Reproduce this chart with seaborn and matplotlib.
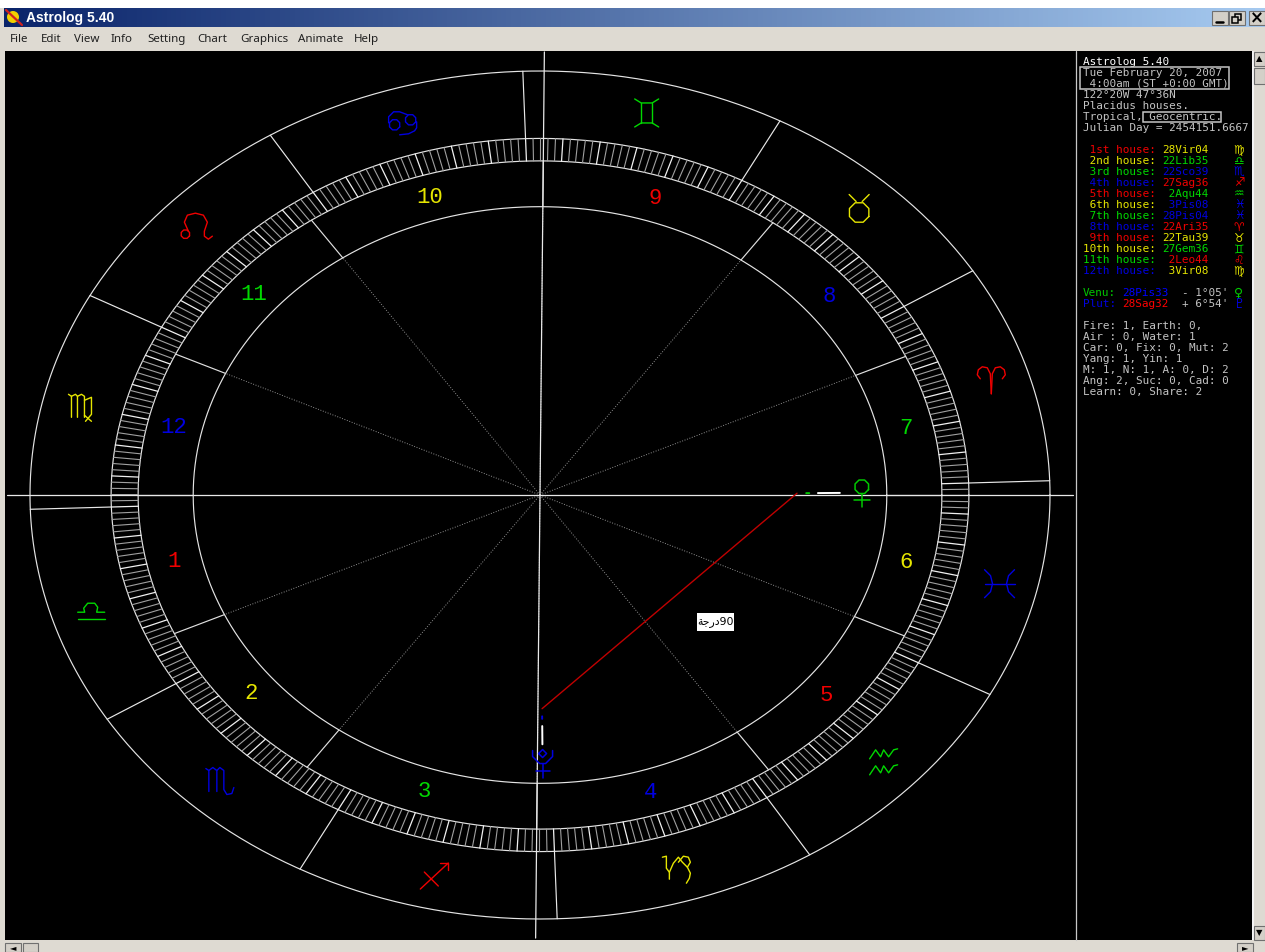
import numpy as np
import pandas as pd
import matplotlib
matplotlib.use("Agg")
import matplotlib.pyplot as plt
from matplotlib.patches import Rectangle, Circle
import seaborn as sns

# chart data (longitudes in degrees)
house_cusps = [178.07, 202.58, 232.65, 267.60, 302.73, 333.13,
               358.07, 22.58, 52.65, 87.60, 122.73, 153.13]
house_names = ["1st", "2nd", "3rd", "4th", "5th", "6th", "7th", "8th", "9th", "10th", "11th", "12th"]
house_pos = ["28Vir04", "22Lib35", "22Sco39", "27Sag36", " 2Aqu44", " 3Pis08",
             "28Pis04", "22Ari35", "22Tau39", "27Gem36", " 2Leo44", " 3Vir08"]
house_pos_sign = [5, 6, 7, 8, 10, 11, 11, 0, 1, 2, 4, 5]
sign_glyphs = ["♈", "♉", "♊", "♋", "♌", "♍", "♎", "♏", "♐", "♑", "♒", "♓"]
planets = ["Venu", "Plut"]
planet_lons = [358.55, 268.53]
planet_pos = ["28Pis33", "28Sag32"]
planet_rate = ["- 1°05'", "+ 6°54'"]
planet_glyphs = ["♀", "♇"]
planet_colors = ["#00c800", "#0000e0"]
planet_pos_colors = ["#0000ff", "#ff0000"]
header_lines = ["Astrolog 5.40", "Tue February 20, 2007", " 4:00am (ST +0:00 GMT)", "122°20W 47°36N",
                "Placidus houses.", "Tropical, Geocentric.", "Julian Day = 2454151.6667"]
stat_lines = ["Fire: 1, Earth: 0,", "Air : 0, Water: 1", "Car: 0, Fix: 0, Mut: 2", "Yang: 1, Yin: 1",
              "M: 1, N: 1, A: 0, D: 2", "Ang: 2, Suc: 0, Cad: 0", "Learn: 0, Share: 2"]
menu_items = ["File", "Edit", "View", "Info", "Setting", "Chart", "Graphics", "Animate", "Help"]
menu_x = [10, 41, 74, 111, 147, 197, 240, 298, 354]

element_colors = ["#f00000", "#e6e600", "#00d800", "#0000e0"]
GRAY = "#c4c4c4"
FACE = "#dedad2"

# wheel geometry
CX, CY, SX, SY = 540, 495, 510, 424
R_OUT, R_RING1, R_RING2, R_IN = 1.0, 0.841, 0.788, 0.68
ASC = house_cusps[0]


def octagon(cx, cy, r):
    a = np.radians(22.5 + 45 * np.arange(9))
    return list(zip(cx + r * np.cos(a), cy + r * np.sin(a)))


# line art of the wheel glyphs, pixel offsets from the glyph's anchor (y down)
sign_strokes = [
    [[(-11, -2), (-14, -6), (-13, -11), (-9, -14), (-4, -13), (-1, -7), (0, 13)],
     [(11, -2), (14, -6), (13, -11), (9, -14), (4, -13), (1, -7), (0, 13)]],
    [octagon(-3, 4, 10.5), [(-13, -14), (-6, -7)], [(7, -14), (0, -7)]],
    [[(-12, -14), (-5.5, -10), (5.5, -10), (12, -14)], [(-12, 14), (-5.5, 10), (5.5, 10), (12, 14)],
     [(-5.5, -10), (-5.5, 10)], [(5.5, -10), (5.5, 10)]],
    [octagon(8, 0, 5.5), octagon(-8, 5, 5.5), [(-14, 3), (-14, -3), (-9, -8), (-3, -8), (5, -5)],
     [(-3, 15), (6, 14), (12, 11), (14, 8), (14, 2)]],
    [octagon(-10, 7, 4.5), [(-7, 4), (-11, -5), (-8, -12), (0, -14), (8, -12), (12, -5), (9, 4), (9, 9), (13, 12), (17, 9)]],
    [[(-12, -12), (-9, -10), (-9, 11)], [(-9, -10), (-5, -12), (-3, -10), (-3, 11)],
     [(-3, -10), (1, -12), (4, -10), (4, 11)], [(4, -6), (11, -9), (11, 8), (5, 15)], [(4, 9), (11, 15)]],
    [[(-11, 3), (-4, 3), (-5, -1), (-1, -6), (6, -6), (9, -2), (8, 3), (16, 3)], [(-11, 10), (16, 10)]],
    [[(-12, -13), (-9, -11), (-9, 10)], [(-9, -11), (-5, -14), (-1, -11), (-1, 10)],
     [(-1, -11), (2, -14), (6, -11), (6, 8), (9, 13), (14, 12), (16, 6)]],
    [[(-13, 12), (15, -14)], [(7, -14), (15, -14), (15, -7)], [(-9, -5), (5, 9)]],
    [[(-15, -13), (-11, -14), (-11, -2), (-8, 2), (-8, 9)],
     [(-8, 2), (-4, -7), (1, -13), (5, -8), (10, -3), (13, 3), (12, 8), (9, 13)],
     [(1, -8), (6, -14), (11, -13), (13, -8), (10, -3)]],
    [[(-15, -4), (-9, -13), (-4, -6), (-1, -13), (4, -6), (9, -13), (13, -14)],
     [(-15, 12), (-9, 3), (-4, 10), (-1, 3), (4, 10), (9, 3), (13, 2)]],
    [[(-15, -14), (-9, -8), (-7, 0), (-9, 8), (-15, 14)], [(15, -14), (9, -8), (7, 0), (9, 8), (15, 14)],
     [(-15, 0), (15, 0)]],
]
planet_strokes = [
    [octagon(0, -6, 7.3), [(0, 1), (0, 14)], [(-8, 7), (8, 7)]],
    [[(-4, -9), (0, -13), (4, -9), (0, -5), (-4, -9)],
     [(-10, -12), (-10, -6), (-3, 1), (3, 1), (10, -6), (10, -12)], [(0, 1), (0, 15)], [(-7, 8), (7, 8)]],
]

sns.set_theme(style="white")
plt.rcParams["font.family"] = ["DejaVu Sans"]
W, H = 1265, 952
fig = plt.figure(figsize=(W / 100, H / 100), dpi=100, facecolor=FACE)


def ax_rect(x0, y0, x1, y1):
    return [x0 / W, 1 - y1 / H, (x1 - x0) / W, (y1 - y0) / H]


# window chrome, in pixels
bg = fig.add_axes([0, 0, 1, 1])
bg.axis("off")
bg.add_patch(Rectangle((0, 0), W, 8, color="white", lw=0))
grad = np.linspace(0, 1, 256).reshape(1, -1, 1)
c0, c1 = np.array([10, 36, 106]) / 255, np.array([166, 202, 240]) / 255
bg.imshow(c0 + (c1 - c0) * grad, extent=[4, W, 27, 8], aspect="auto", zorder=1)
bg.set_xlim(0, W)
bg.set_ylim(H, 0)
bg.add_patch(Rectangle((5, 51), 1247, 889, color="black", lw=0, zorder=1))
bg.add_patch(Rectangle((1252, 51), 1.5, 889, color="#f4f4f4", lw=0, zorder=1))

bg.add_patch(Circle((13, 17), 6, color="#f0d000", lw=0, zorder=2))
bg.plot([6, 22], [10, 25], color="#d02020", lw=1.6, zorder=3)
bg.text(26, 18, "Astrolog 5.40", color="white", fontsize=10, fontweight="bold", family="Liberation Sans",
        va="center", zorder=3)
for name, x in zip(menu_items, menu_x):
    bg.text(x, 39.5, name, color="#202020", fontsize=8.3, family="Noto Sans", va="center", zorder=3)


def button(x0, y0, x1, y1, label=None, size=9):
    bg.add_patch(Rectangle((x0, y0), x1 - x0, y1 - y0, facecolor="#d4d0c8", edgecolor="#707070", lw=0.8, zorder=2))
    if label:
        bg.text((x0 + x1) / 2, (y0 + y1) / 2, label, color="black", fontsize=size, fontweight="bold",
                ha="center", va="center", zorder=3)


button(1212, 11, 1228, 25)
bg.plot([1216, 1223], [22, 22], color="black", lw=1.8, zorder=3)
button(1229, 11, 1245, 25)
bg.add_patch(Rectangle((1235, 14), 6, 6, fill=False, edgecolor="black", lw=1.1, zorder=3))
bg.add_patch(Rectangle((1232, 17), 6, 6, facecolor="#d4d0c8", edgecolor="black", lw=1.1, zorder=3))
button(1249, 11, 1265, 25, "×", 12)
button(1254, 52, 1265, 66, "▲", 6)
button(1254, 68, 1265, 84)
button(5, 943, 21, 952, "◄", 6)
button(23, 943, 38, 952)
button(1237, 943, 1253, 952, "►", 6)
button(1254, 926, 1265, 940, "▼", 6)
bg.plot([1076, 1076], [51, 940], color="#c8c8c8", lw=0.9, zorder=2)

# side panel text
MONO = "DejaVu Sans Mono"
COL, PX0, FS = 6.6, 1083, 7.9


def ptext(col, y, s, color=GRAY):
    bg.text(PX0 + col * COL, y, s, color=color, family=MONO, fontsize=FS, va="center", ha="left", zorder=3)


for s, y in zip(header_lines, [62, 73, 84, 95, 106, 117, 128]):
    ptext(0, y, s, "white" if y == 62 else GRAY)
bg.add_patch(Rectangle((1080, 67), 149, 22, fill=False, edgecolor=GRAY, lw=1.1, zorder=3))
bg.add_patch(Rectangle((1143, 112), 78, 10, fill=False, edgecolor=GRAY, lw=1.1, zorder=3))

for i in range(12):
    y = 150 + 11 * i
    hc = element_colors[i % 4]
    sc = element_colors[house_pos_sign[i] % 4]
    ptext(0, y, f"{house_names[i]:>4} house:", hc)
    ptext(12, y, house_pos[i], sc)
    bg.text(1239, y, sign_glyphs[house_pos_sign[i]], color=sc, fontsize=8.5, ha="center", va="center", zorder=3)

for i in range(2):
    y = 293 + 11 * i
    ptext(0, y, planets[i] + ":", planet_colors[i])
    ptext(6, y, planet_pos[i], planet_pos_colors[i])
    ptext(15, y, planet_rate[i], GRAY)
    bg.text(1239, y, planet_glyphs[i], color=planet_colors[i], fontsize=9, ha="center", va="center", zorder=3)

for i, s in enumerate(stat_lines):
    ptext(0, 326 + 11 * i, s)

# wheel axes, black panel left of the divider
ax = fig.add_axes(ax_rect(6, 51, 1075, 940))
ax.set_facecolor("none")
ax.set_xlim((6 - CX) / SX, (1075 - CX) / SX)
ax.set_ylim((CY - 940) / SY, (CY - 51) / SY)
ax.axis("off")


def theta(lon):
    return np.radians(180 + np.asarray(lon, dtype=float) - ASC)


def spokes(lons, r0, r1, **kw):
    rows = []
    for k, lon in enumerate(lons):
        t = theta(lon)
        rows.append((k, r0 * np.cos(t), r0 * np.sin(t)))
        rows.append((k, r1 * np.cos(t), r1 * np.sin(t)))
    df = pd.DataFrame(rows, columns=["k", "x", "y"])
    sns.lineplot(data=df, x="x", y="y", units="k", estimator=None, sort=False, legend=False, ax=ax, **kw)


def ring(r, **kw):
    t = np.linspace(0, 2 * np.pi, 721)
    df = pd.DataFrame({"x": r * np.cos(t), "y": r * np.sin(t)})
    sns.lineplot(data=df, x="x", y="y", estimator=None, sort=False, legend=False, ax=ax, **kw)


def glyph(lon, r, strokes, color, lw=1.0):
    t = theta(lon)
    x0, y0 = r * np.cos(t), r * np.sin(t)
    rows = []
    for k, stroke in enumerate(strokes):
        for dx, dy in stroke:
            rows.append((k, x0 + dx / SX, y0 - dy / SY))
    df = pd.DataFrame(rows, columns=["k", "x", "y"])
    sns.lineplot(data=df, x="x", y="y", units="k", estimator=None, sort=False, legend=False, ax=ax,
                 color=color, lw=lw)


for r in [R_OUT, R_RING1, R_RING2, R_IN]:
    ring(r, color="#e4e4e4", lw=0.85)

degrees = list(range(360))
spokes([d for d in degrees if d % 5], R_RING2, R_RING1, color="#a0a0a0", lw=0.8)
spokes([d for d in degrees if d % 5 == 0], R_RING2, R_RING1, color="#f0f0f0", lw=0.9)

# sign boundaries and glyphs
spokes(list(range(0, 360, 30)), R_RING1, R_OUT, color="#e8e8e8", lw=0.85)
for i, strokes in enumerate(sign_strokes):
    glyph(15 + 30 * i, 0.925, strokes, element_colors[i % 4])

# house cusps
spokes(house_cusps, 0, R_IN, color="#909090", lw=0.7, linestyle=":")
spokes(house_cusps, R_IN, R_RING2, color="#e0e0e0", lw=0.85)
spokes([house_cusps[0], house_cusps[3], house_cusps[6], house_cusps[9]], 0, 1.045, color="#e8e8e8", lw=0.9)
for i in range(12):
    a, b = house_cusps[i], house_cusps[(i + 1) % 12]
    mid = a + ((b - a) % 360) / 2
    t = theta(mid)
    ax.text(0.735 * np.cos(t), 0.735 * np.sin(t), str(i + 1), color=element_colors[i % 4], fontsize=16,
            family="Liberation Mono", ha="center", va="center")

# planets, their ticks and the aspect line
for lon, strokes, c in zip(planet_lons, planet_strokes, planet_colors):
    glyph(lon, 0.631, strokes, c, lw=1.1)
    spokes([lon], 0.545, 0.588, color="white", lw=1.4)
    spokes([lon], 0.522, 0.528, color=c, lw=1.4)

t_a = theta(planet_lons)
aspect = pd.DataFrame({"x": 0.504 * np.cos(t_a), "y": 0.504 * np.sin(t_a)})
sns.lineplot(data=aspect, x="x", y="y", estimator=None, sort=False, color="#c00000", lw=1.0, legend=False, ax=ax)

# hand-placed label, presentation forms in visual order
ax.add_patch(Rectangle(((697 - CX) / SX, (CY - 631) / SY), 37 / SX, 18 / SY, facecolor="white", lw=0, zorder=5))
ax.text((715.5 - CX) / SX, (CY - 622) / SY, "\ufe94\ufe9f\ufead\ufea990", color="black", fontsize=7.8,
        ha="center", va="center", zorder=6)

fig.savefig("out.png", dpi=100, facecolor=FACE)
